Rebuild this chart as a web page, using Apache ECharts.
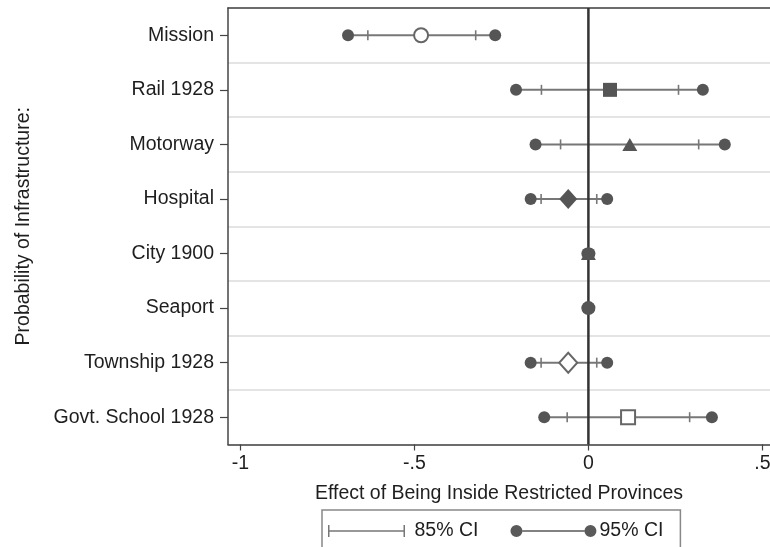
<!DOCTYPE html>
<html>
<head>
<meta charset="utf-8">
<script src="https://cdn.jsdelivr.net/npm/echarts@6/dist/echarts.min.js"></script>
<style>
  html, body { margin: 0; padding: 0; background: #fff; }
  #chart { width: 770px; height: 547px; }
</style>
</head>
<body>
<div id="chart"></div>
<script>
// categories, top to bottom
const categories = ["Mission", "Rail 1928", "Motorway", "Hospital", "City 1900", "Seaport", "Township 1928", "Govt. School 1928"];
// point estimates
const estimates = [-0.481, 0.062, 0.119, -0.058, 0.0, 0.0, -0.058, 0.114];
// 95% CI
const lo95 = [-0.691, -0.208, -0.152, -0.166, -0.003, -0.002, -0.166, -0.127];
const hi95 = [-0.268, 0.329, 0.392, 0.054, 0.003, 0.002, 0.054, 0.355];
// 85% CI
const lo85 = [-0.634, -0.135, -0.080, -0.136, -0.002, -0.001, -0.136, -0.061];
const hi85 = [-0.324, 0.259, 0.317, 0.024, 0.002, 0.001, 0.024, 0.291];
// marker per row
const markerShapes = ["circle", "rect", "triangle", "diamond", "triangle", "circle", "diamond", "rect"];
const markerHollow = [true, false, false, false, false, false, true, true];
const xTicks = [-1, -0.5, 0, 0.5];
const zeroLine = [0];

const font = "Liberation Sans, Arial, sans-serif";
const fontSize = 19.5;
const textColor = "#1e1e1e";
const frameColor = "#444";

const chart = echarts.init(document.getElementById("chart"), null, { renderer: "canvas" });

const ci95Rows = categories.map((c, i) => [lo95[i], hi95[i], i]);
const ci85Rows = categories.map((c, i) => [lo85[i], hi85[i], i]);

const sizeFor = {
  circle: [14, 14],
  rect: [14, 14],
  triangle: [15, 13],
  diamond: [18, 20]
};

const pointData = categories.map((c, i) => ({
  value: [estimates[i], i],
  symbol: markerShapes[i],
  symbolSize: sizeFor[markerShapes[i]],
  itemStyle: markerHollow[i]
    ? { color: "#fff", borderColor: "#666", borderWidth: 2, opacity: 1 }
    : { color: "#555", borderWidth: 0, opacity: 1 }
}));

function fmtTick(v) {
  if (v === 0) return "0";
  return String(v).replace("0.", ".");
}

chart.setOption({
  animation: false,
  backgroundColor: "#fff",
  textStyle: { fontFamily: font },
  grid: { left: 228, right: 0, top: 8, bottom: 102.5, outerBoundsMode: "none" },
  legend: {
    left: 322,
    top: 510,
    orient: "horizontal",
    padding: [10, 17, 24, 6],
    borderColor: "#888",
    borderWidth: 1.5,
    borderRadius: 0,
    itemWidth: 86,
    itemHeight: 12,
    itemGap: 32,
    selectedMode: false,
    symbolKeepAspect: true,
    textStyle: { fontFamily: font, fontSize: fontSize, color: textColor, lineHeight: 22 },
    data: [
      {
        name: "85% CI",
        icon: "path://M0,0 L1.5,0 L1.5,5.25 L75.5,5.25 L75.5,0 L77,0 L77,12 L75.5,12 L75.5,6.75 L1.5,6.75 L1.5,12 L0,12 Z",
        itemStyle: { color: "#777" },
        textStyle: { padding: [0, 0, 0, 0] }
      },
      {
        name: "95% CI",
        icon: "path://M0,6 A6,6 0 1,1 12,6 A6,6 0 1,1 0,6 Z M12,5.2 L74,5.2 L74,6.8 L12,6.8 Z M74,6 A6,6 0 1,1 86,6 A6,6 0 1,1 74,6 Z",
        itemStyle: { color: "#5a5a5a" },
        textStyle: { padding: [0, 0, 0, -2] }
      }
    ]
  },
  xAxis: [
    {
      type: "value",
      position: "bottom",
      min: -1.036,
      max: 0.522,
      name: "Effect of Being Inside Restricted Provinces",
      nameLocation: "middle",
      nameGap: 39,
      nameTextStyle: { fontFamily: font, fontSize: fontSize, color: textColor },
      axisLine: { show: true, onZero: false, lineStyle: { color: frameColor, width: 1.5 } },
      axisTick: { show: true, customValues: xTicks, length: 6, lineStyle: { color: frameColor, width: 1.2 } },
      axisLabel: {
        customValues: xTicks,
        margin: 9,
        fontFamily: font,
        fontSize: fontSize,
        color: textColor,
        formatter: fmtTick
      },
      splitLine: { show: false }
    },
    {
      type: "value",
      position: "top",
      min: -1.036,
      max: 0.522,
      axisLine: { show: true, onZero: false, lineStyle: { color: frameColor, width: 1.5 } },
      axisTick: { show: false },
      axisLabel: { show: false },
      splitLine: { show: false }
    }
  ],
  yAxis: {
    type: "category",
    data: categories,
    inverse: true,
    boundaryGap: true,
    position: "left",
    name: "Probability of Infrastructure:",
    nameLocation: "middle",
    nameGap: 194,
    nameRotate: 90,
    nameTextStyle: { fontFamily: font, fontSize: fontSize, color: textColor },
    axisLine: { show: true, onZero: false, lineStyle: { color: frameColor, width: 1.5 } },
    axisTick: { show: true, alignWithLabel: true, length: 8, lineStyle: { color: frameColor, width: 1.2 } },
    axisLabel: { margin: 14, fontFamily: font, fontSize: fontSize, color: textColor, interval: 0 },
    splitLine: { show: true, lineStyle: { color: "#e4e4e4", width: 2 } }
  },
  series: [
    {
      // 95% CI span
      name: "95% CI",
      type: "custom",
      z: 1,
      encode: { x: [0, 1], y: 2 },
      itemStyle: { color: "#5a5a5a" },
      data: ci95Rows,
      renderItem(params, api) {
        const a = api.coord([api.value(0), api.value(2)]);
        const b = api.coord([api.value(1), api.value(2)]);
        return {
          type: "line",
          shape: { x1: a[0], y1: a[1], x2: b[0], y2: b[1] },
          style: { stroke: "#777", lineWidth: 2 }
        };
      }
    },
    {
      // 85% CI caps
      name: "85% CI",
      type: "custom",
      z: 2,
      encode: { x: [0, 1], y: 2 },
      itemStyle: { color: "#777" },
      data: ci85Rows,
      renderItem(params, api) {
        const a = api.coord([api.value(0), api.value(2)]);
        const b = api.coord([api.value(1), api.value(2)]);
        return {
          type: "group",
          children: [a, b].map(p => ({
            type: "line",
            shape: { x1: p[0], y1: p[1] - 5, x2: p[0], y2: p[1] + 5 },
            style: { stroke: "#777", lineWidth: 1.6 }
          }))
        };
      }
    },
    {
      // zero reference line, full plot height
      name: "zero",
      type: "custom",
      z: 2,
      silent: true,
      encode: { x: 0 },
      data: zeroLine.map(v => [v]),
      renderItem(params, api) {
        const cs = params.coordSys;
        const x = api.coord([api.value(0), 0])[0];
        return {
          type: "line",
          shape: { x1: x, y1: cs.y, x2: x, y2: cs.y + cs.height },
          style: { stroke: "#333", lineWidth: 2.5 }
        };
      }
    },
    {
      name: "Estimate",
      type: "scatter",
      z: 3,
      data: pointData
    },
    {
      // 95% CI end dots
      name: "95% ends",
      type: "custom",
      z: 4,
      encode: { x: [0, 1], y: 2 },
      data: ci95Rows,
      renderItem(params, api) {
        const a = api.coord([api.value(0), api.value(2)]);
        const b = api.coord([api.value(1), api.value(2)]);
        return {
          type: "group",
          children: [a, b].map(p => ({
            type: "circle",
            shape: { cx: p[0], cy: p[1], r: 6 },
            style: { fill: "#555" }
          }))
        };
      }
    }
  ]
});
</script>
</body>
</html>
